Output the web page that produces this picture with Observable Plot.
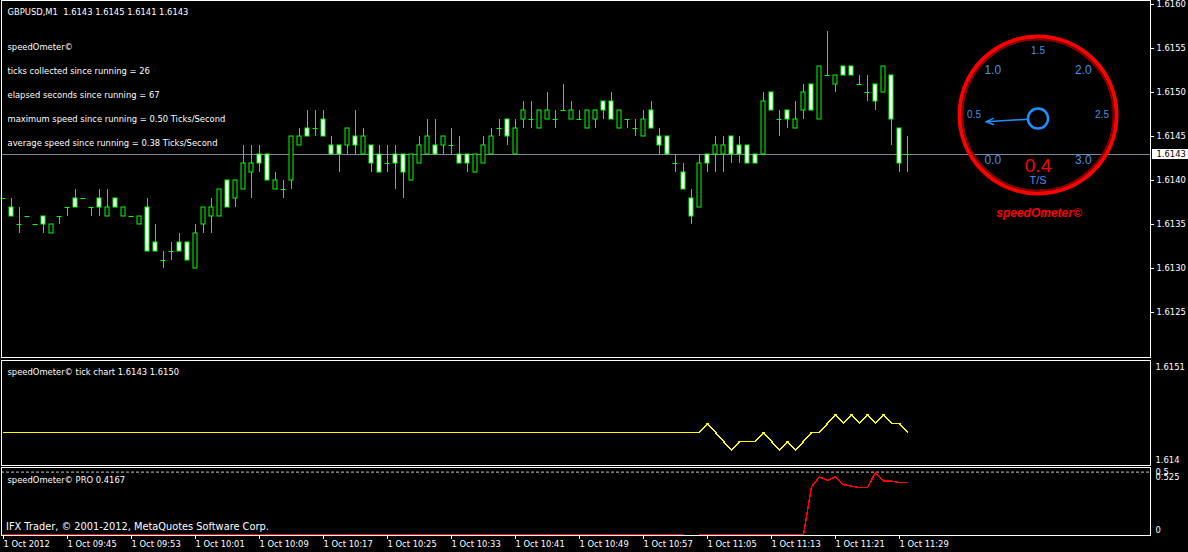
<!DOCTYPE html>
<html><head><meta charset="utf-8">
<script src="https://cdn.jsdelivr.net/npm/d3@7"></script>
<script src="https://cdn.jsdelivr.net/npm/@observablehq/plot@0.6"></script>
<style>
html,body{margin:0;padding:0;background:#000;}
#root{position:relative;width:1188px;height:552px;background:#000;overflow:hidden;}
#root svg{position:absolute;display:block;}
</style></head><body><div id="root"></div>
<script>
// ---------- data ----------
const symbolTitle = "GBPUSD,M1\u00a0 1.6143 1.6145 1.6141 1.6143";
const infoLines = [
  "speedOmeter\u00a9",
  "ticks collected since running = 26",
  "elapsed seconds since running = 67",
  "maximum speed since running = 0.50 Ticks/Second",
  "average speed since running = 0.38 Ticks/Second"
];
const tickTitle = "speedOmeter\u00a9 tick chart 1.6143 1.6150";
const proTitle = "speedOmeter\u00a9 PRO 0.4167";
const copyright = "IFX Trader, \u00a9 2001-2012, MetaQuotes Software Corp.";

const timeLabels = ["1 Oct 2012","1 Oct 09:45","1 Oct 09:53","1 Oct 10:01","1 Oct 10:09","1 Oct 10:17","1 Oct 10:25","1 Oct 10:33","1 Oct 10:41","1 Oct 10:49","1 Oct 10:57","1 Oct 11:05","1 Oct 11:13","1 Oct 11:21","1 Oct 11:29"];
const timeLabelBars = [0,8,16,24,32,40,48,56,64,72,80,88,96,104,112];

const opens = [1.6138,1.6137,1.6135,1.6136,1.6135,1.6136,1.6134,1.6136,1.6137,1.6138,1.6138,1.6137,1.6138,1.6136,1.6138,1.6136,1.6136,1.6135,1.6137,1.6133,1.6131,1.6132,1.6133,1.6133,1.6130,1.6135,1.6136,1.6136,1.6140,1.6138,1.6139,1.6141,1.6143,1.6143,1.6139,1.6139,1.6140,1.6144,1.6146,1.6146,1.6147,1.6144,1.6144,1.6144,1.6145,1.6143,1.6144,1.6143,1.6142,1.6143,1.6143,1.6140,1.6142,1.6143,1.6144,1.6144,1.6144,1.6143,1.6143,1.6141,1.6142,1.6143,1.6146,1.6147,1.6143,1.6147,1.6147,1.6146,1.6147,1.6147,1.6148,1.6147,1.6147,1.6146,1.6147,1.6149,1.6149,1.6146,1.6147,1.6146,1.6145,1.6148,1.6145,1.6145,1.6142,1.6141,1.6138,1.6137,1.6143,1.6143,1.6143,1.6145,1.6144,1.6144,1.6143,1.6143,1.6150,1.6147,1.6148,1.6146,1.6148,1.6151,1.6147,1.6152,1.6151,1.6153,1.6153,1.6151,1.6150,1.6151,1.6150,1.6152,1.6146,1.6143];
const highs = [1.6138,1.6138,1.6137,1.6136,1.6135,1.6136,1.6135,1.6136,1.6137,1.6139,1.6138,1.6137,1.6139,1.6139,1.6138,1.6137,1.6136,1.6136,1.6138,1.6135,1.6132,1.6133,1.6134,1.6133,1.6135,1.6137,1.6138,1.6139,1.6140,1.6140,1.6144,1.6144,1.6144,1.6143,1.6141,1.6140,1.6145,1.6146,1.6148,1.6148,1.6148,1.6145,1.6144,1.6146,1.6148,1.6146,1.6144,1.6144,1.6144,1.6144,1.6143,1.6143,1.6145,1.6147,1.6147,1.6145,1.6146,1.6145,1.6143,1.6143,1.6145,1.6146,1.6147,1.6147,1.6147,1.6149,1.6149,1.6148,1.6150,1.6148,1.6151,1.6149,1.6148,1.6148,1.6148,1.6149,1.6150,1.6148,1.6147,1.6147,1.6148,1.6149,1.6146,1.6145,1.6143,1.6142,1.6139,1.6143,1.6143,1.6145,1.6145,1.6145,1.6145,1.6144,1.6143,1.6150,1.6150,1.6148,1.6148,1.6149,1.6151,1.6151,1.6153,1.6157,1.6152,1.6153,1.6153,1.6152,1.6152,1.6151,1.6153,1.6152,1.6146,1.6145];
const lows = [1.6138,1.6136,1.6134,1.6136,1.6135,1.6134,1.6134,1.6135,1.6136,1.6137,1.6138,1.6136,1.6136,1.6136,1.6137,1.6136,1.6136,1.6135,1.6132,1.6132,1.6130,1.6131,1.6132,1.6131,1.6130,1.6134,1.6134,1.6136,1.6137,1.6137,1.6139,1.6138,1.6141,1.6140,1.6139,1.6138,1.6139,1.6144,1.6145,1.6145,1.6145,1.6143,1.6141,1.6143,1.6143,1.6143,1.6141,1.6141,1.6141,1.6139,1.6138,1.6140,1.6142,1.6143,1.6143,1.6143,1.6143,1.6142,1.6141,1.6141,1.6142,1.6143,1.6145,1.6144,1.6143,1.6146,1.6146,1.6146,1.6147,1.6146,1.6148,1.6147,1.6147,1.6146,1.6146,1.6147,1.6147,1.6146,1.6146,1.6145,1.6145,1.6146,1.6143,1.6143,1.6141,1.6139,1.6135,1.6137,1.6141,1.6141,1.6141,1.6142,1.6142,1.6142,1.6142,1.6143,1.6148,1.6145,1.6146,1.6146,1.6147,1.6148,1.6147,1.6152,1.6150,1.6152,1.6152,1.6151,1.6149,1.6148,1.6150,1.6144,1.6141,1.6141];
const closes = [1.6138,1.6136,1.6135,1.6136,1.6135,1.6135,1.6135,1.6136,1.6137,1.6137,1.6138,1.6137,1.6137,1.6137,1.6137,1.6137,1.6136,1.6136,1.6132,1.6132,1.6131,1.6132,1.6132,1.6131,1.6134,1.6137,1.6137,1.6139,1.6137,1.6140,1.6142,1.6142,1.6142,1.6140,1.6140,1.6139,1.6145,1.6145,1.6145,1.6146,1.6145,1.6143,1.6143,1.6146,1.6144,1.6145,1.6142,1.6141,1.6142,1.6142,1.6141,1.6143,1.6144,1.6145,1.6143,1.6145,1.6144,1.6142,1.6142,1.6143,1.6144,1.6145,1.6146,1.6145,1.6146,1.6148,1.6147,1.6148,1.6148,1.6147,1.6148,1.6148,1.6147,1.6148,1.6148,1.6148,1.6147,1.6148,1.6147,1.6146,1.6147,1.6146,1.6144,1.6143,1.6142,1.6139,1.6136,1.6142,1.6142,1.6144,1.6144,1.6143,1.6143,1.6142,1.6142,1.6149,1.6148,1.6147,1.6147,1.6147,1.6150,1.6148,1.6153,1.6152,1.6152,1.6152,1.6152,1.6151,1.6150,1.6149,1.6153,1.6147,1.6142,1.6143];
const bidPrice = 1.6143;
const priceTicks = [1.6125,1.6130,1.6135,1.6140,1.6145,1.6150,1.6155,1.6160];

const tickBars   = [0,87,88,89,90,91,92,93,94,95,96,97,98,99,100,101,102,103,104,105,106,107,108,109,110,111,112,113];
const tickValues = [1.6143,1.6143,1.6144,1.6143,1.6142,1.6141,1.6142,1.6142,1.6142,1.6143,1.6142,1.6141,1.6142,1.6141,1.6142,1.6143,1.6143,1.6144,1.6145,1.6144,1.6145,1.6144,1.6145,1.6144,1.6145,1.6144,1.6144,1.6143];
const tickAxisTop = "1.6151";
const tickAxisBottom = "1.614";
const tickAxisBottomValue = 1.614;

const proBars   = [0,85,86,87,100,101,102,103,104,105,106,107,108,109,110,111,112,113];
const proValues = [0,0,null,0,0,0.381,0.4615,0.435,0.4615,0.400,0.387,0.377,0.377,0.497,0.427,0.427,0.4167,0.4167];
const proLevel = 0.5;
const proAxisLabels = ["0.5","0.525","0"];

const gaugeLabels = ["0.0","0.5","1.0","1.5","2.0","2.5","3.0"];
const gaugeValues = [0,0.5,1,1.5,2,2.5,3];
const gaugeSpeed = 0.4167;
const gaugeReadout = "0.4";
const gaugeUnit = "T/S";
const gaugeName = "speedOmeter\u00a9";

// ---------- layout ----------
const root = document.getElementById("root");
const W = 1188, mL = 1, mR = 38;
const xDomain = [-0.25, 143.375];          // bar k sits at pixel 3 + 8k
const mt4Font = "DejaVu Sans";
const fs = 8.4;
const green = "#00ff00";

function place(svg, left, top) { svg.style.left = left + "px"; svg.style.top = top + "px"; root.appendChild(svg); }

const bars = opens.map((o, i) => ({k: i, o, h: highs[i], l: lows[i], c: closes[i]}));

// ---- main price panel ----
const main = Plot.plot({
  width: W, height: 358, marginLeft: mL, marginRight: mR, marginTop: 0, marginBottom: 1,
  style: {background: "transparent", color: "white", fontFamily: mt4Font, fontSize: fs + "px"},
  x: {domain: xDomain, axis: null},
  y: {domain: [1.6119932, 1.61605], round: true, axis: null},
  marks: [
    Plot.ruleY([bidPrice], {stroke: "#778899"}),
    Plot.ruleX(bars, {x: "k", y1: "l", y2: "h", stroke: green}),
    Plot.rect(bars.filter(b => b.c < b.o), {x1: b => b.k - 0.25, x2: b => b.k + 0.25, y1: "o", y2: "c", fill: "white", stroke: green}),
    Plot.rect(bars.filter(b => b.c > b.o), {x1: b => b.k - 0.25, x2: b => b.k + 0.25, y1: "o", y2: "c", fill: "black", stroke: green}),
    Plot.ruleY(bars.filter(b => b.c === b.o), {y: "o", x1: b => b.k - 0.3125, x2: b => b.k + 0.3125, stroke: green}),
    Plot.frame({stroke: "white"}),
    Plot.axisY(priceTicks, {anchor: "right", label: null, tickFormat: d3.format(".4f"), tickSize: 3, tickPadding: 3}),
    Plot.rect([bidPrice], {x1: xDomain[1] + 0.25, x2: xDomain[1] + 4.75, y1: d => d - 0.000053, y2: d => d + 0.000053, fill: "white"}),
    Plot.text([bidPrice], {y: d => d, frameAnchor: "right", dx: 6, textAnchor: "start", text: d3.format(".4f"), fill: "black"}),
    Plot.text([symbolTitle], {frameAnchor: "top-left", dx: 6, dy: 8.3, textAnchor: "start"}),
    ...infoLines.map((t, i) => Plot.text([t], {frameAnchor: "top-left", dx: 6, dy: 43.3 + 24 * i, textAnchor: "start"}))
  ]
});
place(main, 0, 0);

// ---- tick chart panel ----
const tickData = tickBars.map((k, i) => ({k, v: tickValues[i]}));
const tickPlot = Plot.plot({
  width: W, height: 106, marginLeft: mL, marginRight: mR, marginTop: 0, marginBottom: 1,
  style: {background: "transparent", color: "white", fontFamily: mt4Font, fontSize: fs + "px"},
  x: {domain: xDomain, axis: null},
  y: {domain: [1.6139333, 1.6151], axis: null},
  marks: [
    Plot.line(tickData, {x: "k", y: "v", stroke: "#ffff00", shapeRendering: "crispEdges"}),
    Plot.frame({stroke: "white"}),
    Plot.text([tickTitle], {frameAnchor: "top-left", dx: 6, dy: 9, textAnchor: "start"}),
    Plot.text([tickAxisTop], {frameAnchor: "top-right", dx: 5, dy: 4, textAnchor: "start"}),
    Plot.text([tickAxisBottomValue], {y: d => d, frameAnchor: "right", dx: 5, dy: 0.5, textAnchor: "start", text: () => tickAxisBottom})
  ]
});
place(tickPlot, 0, 360);

// ---- speedOmeter PRO panel + time axis ----
const proData = proBars.map((k, i) => ({k, v: proValues[i]}));
const proPlot = Plot.plot({
  width: W, height: 85, marginLeft: mL, marginRight: mR, marginTop: 0, marginBottom: 17,
  style: {background: "transparent", color: "white", fontFamily: mt4Font, fontSize: fs + "px"},
  x: {domain: xDomain, axis: null},
  y: {domain: [-0.008, 0.5369], axis: null},
  marks: [
    Plot.ruleY([proLevel], {stroke: "#c8c8c8", strokeDasharray: "3,2"}),
    Plot.line(proData, {x: "k", y: "v", stroke: "#ff0000", shapeRendering: "crispEdges"}),
    Plot.frame({stroke: "white"}),
    Plot.axisX(timeLabelBars, {anchor: "bottom", label: null, tickSize: 4, tickPadding: 2, textAnchor: "start",
      tickFormat: d => timeLabels[timeLabelBars.indexOf(d)]}),
    Plot.text([proTitle], {frameAnchor: "top-left", dx: 6, dy: 9.5, textAnchor: "start"}),
    Plot.text([copyright], {frameAnchor: "top-left", dx: 4.5, dy: 56, textAnchor: "start", fontSize: 9.8}),
    Plot.text([proAxisLabels[0]], {frameAnchor: "top-right", dx: 5, dy: 1.5, textAnchor: "start"}),
    Plot.text([proAxisLabels[1]], {frameAnchor: "top-right", dx: 5, dy: 6.5, textAnchor: "start"}),
    Plot.text([proAxisLabels[2]], {frameAnchor: "bottom-right", dx: 5, dy: -2.5, textAnchor: "start"})
  ]
});
place(proPlot, 0, 467);

// ---- speedometer gauge (pixel units relative to the dial centre) ----
const R = 64;
const theta = v => (225 - 90 * v) * Math.PI / 180;
const hub = {x: 0, y: -3.5};
const tip = {x: 52.5 * Math.cos(theta(gaugeSpeed)), y: 52.5 * Math.sin(theta(gaugeSpeed))};
const len = Math.hypot(tip.x - hub.x, tip.y - hub.y);
const needle = {x1: hub.x + 10 * (tip.x - hub.x) / len, y1: hub.y + 10 * (tip.y - hub.y) / len, x2: tip.x, y2: tip.y};
const blue = "#1e90ff";
const gauge = Plot.plot({
  width: 200, height: 210, margin: 0,
  style: {background: "transparent", fontFamily: "Liberation Sans"},
  x: {domain: [-100.5, 99.5], axis: null},
  y: {domain: [-109.5, 100.5], axis: null},
  marks: [
    Plot.dot([0], {x: 0, y: 0, r: 78.5, stroke: "#ff0000", strokeWidth: 4, fill: "none"}),
    Plot.dot([0], {x: 0, y: 0, r: 75.5, stroke: "#8a0000", strokeWidth: 2, fill: "none"}),
    Plot.text(gaugeValues, {x: v => R * Math.cos(theta(v)), y: v => R * Math.sin(theta(v)),
      text: (v, i) => gaugeLabels[i], fontSize: v => Number.isInteger(v) ? 12 : 10, fill: "#4a8fe8"}),
    Plot.dot([hub], {x: "x", y: "y", r: 10, stroke: blue, strokeWidth: 2.5, fill: "none"}),
    Plot.arrow([needle], {x1: "x1", y1: "y1", x2: "x2", y2: "y2", stroke: blue, strokeWidth: 1.5, headLength: 8, headAngle: 45}),
    Plot.text([gaugeReadout], {x: 0, y: -50.5, fill: "#ff0000", fontSize: 19}),
    Plot.text([gaugeUnit], {x: 0, y: -65.5, fill: "#4a8fe8", fontSize: 11}),
    Plot.text([gaugeName], {x: 1, y: -97.8, fill: "#ff0000", fontSize: 12, fontWeight: "bold", fontStyle: "italic"})
  ]
});
place(gauge, 937, 14);
</script></body></html>
